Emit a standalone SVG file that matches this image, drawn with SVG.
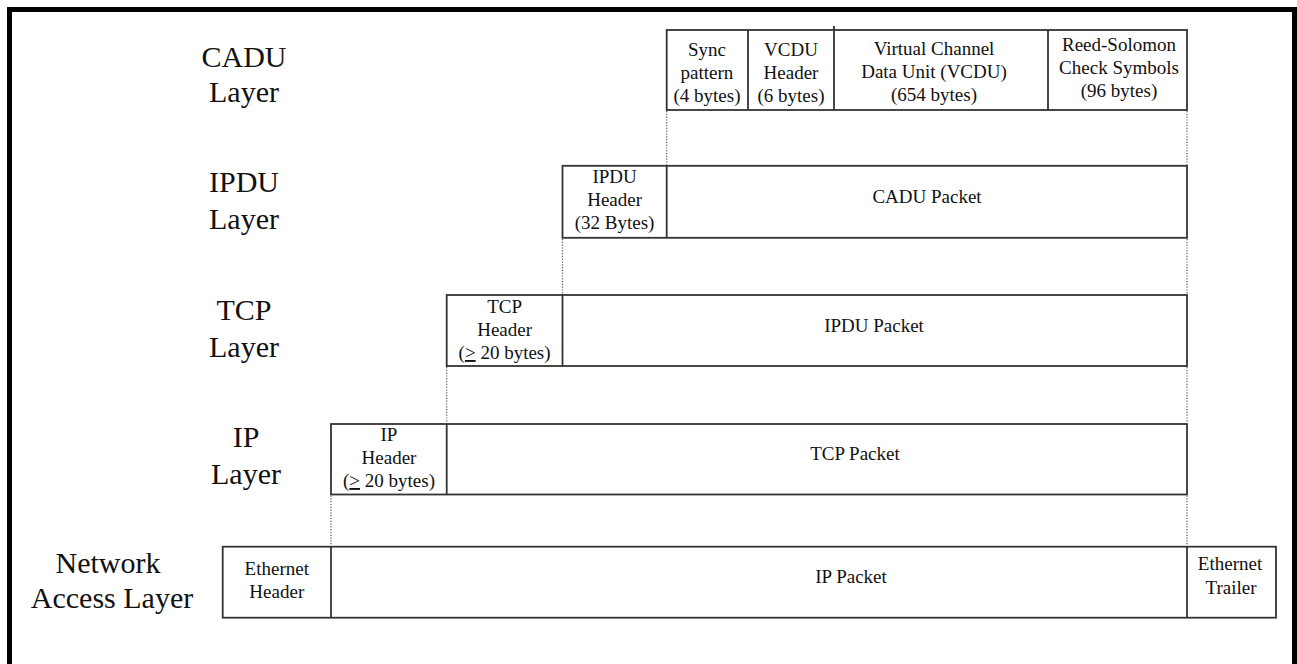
<svg xmlns="http://www.w3.org/2000/svg" width="1297" height="664" viewBox="0 0 1297 664">
<style>
.box{fill:#fff;stroke:#333;stroke-width:1.8}
.div{stroke:#333;stroke-width:1.8;fill:none}
.dot{stroke:#555;stroke-width:1.2;stroke-dasharray:1.2 1.6;fill:none}
.lbl{font-family:"Liberation Serif","Times New Roman",serif;font-size:30px;fill:#111;text-anchor:middle}
.t{font-family:"Liberation Serif","Times New Roman",serif;font-size:19px;fill:#111;text-anchor:middle}
</style>
<rect x="9.5" y="9.5" width="1285" height="720" fill="#fff" stroke="#000" stroke-width="5"/>

<g id="labels">
<text class="lbl" x="244" y="67">CADU</text>
<text class="lbl" x="244" y="102">Layer</text>
<text class="lbl" x="244" y="192">IPDU</text>
<text class="lbl" x="244" y="229">Layer</text>
<text class="lbl" x="244" y="320">TCP</text>
<text class="lbl" x="244" y="357">Layer</text>
<text class="lbl" x="246" y="447">IP</text>
<text class="lbl" x="246" y="484">Layer</text>
<text class="lbl" x="108" y="573">Network</text>
<text class="lbl" x="112" y="608">Access Layer</text>
</g>

<g id="cadu">
<rect class="box" x="666.7" y="30" width="520.3" height="80"/>
<line class="div" x1="748" y1="30" x2="748" y2="110"/>
<line class="div" x1="834" y1="26" x2="834" y2="110"/>
<line class="div" x1="1048" y1="30" x2="1048" y2="110"/>
<text class="t" x="707" y="56">Sync</text>
<text class="t" x="707" y="79">pattern</text>
<text class="t" x="707" y="102">(4 bytes)</text>
<text class="t" x="791" y="56">VCDU</text>
<text class="t" x="791" y="79">Header</text>
<text class="t" x="791" y="102">(6 bytes)</text>
<text class="t" x="934" y="55">Virtual Channel</text>
<text class="t" x="934" y="78">Data Unit (VCDU)</text>
<text class="t" x="934" y="101">(654 bytes)</text>
<text class="t" x="1119" y="51">Reed-Solomon</text>
<text class="t" x="1119" y="74">Check Symbols</text>
<text class="t" x="1119" y="97">(96 bytes)</text>
</g>

<g id="ipdu">
<rect class="box" x="562.5" y="165.8" width="624.5" height="72"/>
<line class="div" x1="666.7" y1="165.8" x2="666.7" y2="237.8"/>
<text class="t" x="614.6" y="183">IPDU</text>
<text class="t" x="614.6" y="206">Header</text>
<text class="t" x="614.6" y="229">(32 Bytes)</text>
<text class="t" x="927" y="203">CADU Packet</text>
</g>

<g id="tcp">
<rect class="box" x="446.7" y="295" width="740.3" height="71"/>
<line class="div" x1="562.5" y1="295" x2="562.5" y2="366"/>
<text class="t" x="504.6" y="313">TCP</text>
<text class="t" x="504.6" y="336">Header</text>
<text class="t" x="504.6" y="359">(<tspan text-decoration="underline">&gt;</tspan> 20 bytes)</text>
<text class="t" x="874" y="332">IPDU Packet</text>
</g>

<g id="ip">
<rect class="box" x="331" y="424" width="856" height="70.5"/>
<line class="div" x1="446.7" y1="424" x2="446.7" y2="494.5"/>
<text class="t" x="389" y="441">IP</text>
<text class="t" x="389" y="464">Header</text>
<text class="t" x="389" y="487">(<tspan text-decoration="underline">&gt;</tspan> 20 bytes)</text>
<text class="t" x="855" y="460">TCP Packet</text>
</g>

<g id="network">
<rect class="box" x="222.7" y="546.7" width="1053.3" height="71"/>
<line class="div" x1="331" y1="546.7" x2="331" y2="617.7"/>
<line class="div" x1="1187" y1="546.7" x2="1187" y2="617.7"/>
<text class="t" x="276.8" y="575">Ethernet</text>
<text class="t" x="276.8" y="598">Header</text>
<text class="t" x="851" y="583">IP Packet</text>
<text class="t" x="1230" y="570">Ethernet</text>
<text class="t" x="1231" y="594">Trailer</text>
</g>

<g id="connectors">
<line class="dot" x1="666.7" y1="111" x2="666.7" y2="165"/>
<line class="dot" x1="1187" y1="111" x2="1187" y2="165"/>
<line class="dot" x1="562.5" y1="239" x2="562.5" y2="294"/>
<line class="dot" x1="1187" y1="239" x2="1187" y2="294"/>
<line class="dot" x1="446.7" y1="367" x2="446.7" y2="423"/>
<line class="dot" x1="1187" y1="367" x2="1187" y2="423"/>
<line class="dot" x1="331" y1="495.5" x2="331" y2="546"/>
<line class="dot" x1="1187" y1="495.5" x2="1187" y2="546"/>
</g>
</svg>
